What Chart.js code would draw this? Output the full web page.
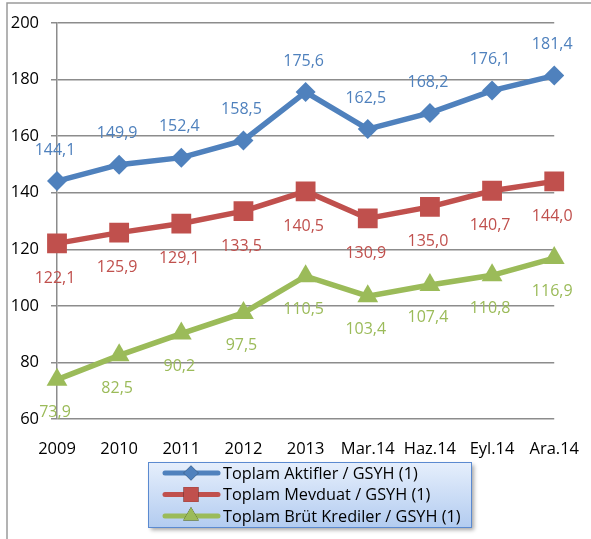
<!DOCTYPE html>
<html>
<head>
<meta charset="utf-8">
<script src="https://cdn.jsdelivr.net/npm/chart.js@4.4.1/dist/chart.umd.min.js"></script>
<style>
  html, body { margin: 0; padding: 0; background: #fff; }
  #wrap { width: 591px; height: 539px; }
</style>
</head>
<body>
<div id="wrap"><canvas id="chart" width="591" height="539"></canvas></div>
<script>
// Bankacılık sektörü oranları (% GSYH)
const periods = ['2009', '2010', '2011', '2012', '2013', 'Mar.14', 'Haz.14', 'Eyl.14', 'Ara.14'];
const aktifler = [144.1, 149.9, 152.4, 158.5, 175.6, 162.5, 168.2, 176.1, 181.4];
const mevduat = [122.1, 125.9, 129.1, 133.5, 140.5, 130.9, 135.0, 140.7, 144.0];
const krediler = [73.9, 82.5, 90.2, 97.5, 110.5, 103.4, 107.4, 110.8, 116.9];
const seriesNames = ['Toplam Aktifler / GSYH (1)', 'Toplam Mevduat / GSYH (1)', 'Toplam Brüt Krediler / GSYH (1)'];
const yMin = 60, yMax = 200, yStep = 20;

const FONT = '"Open Sans", "Noto Sans", sans-serif';
const gridColor = '#8c8c8c';

// frame round the whole picture (left and top edges only are visible)
const framePlugin = {
    id: 'frame',
    beforeDraw(chart) {
        const c = chart.ctx;
        c.save();
        c.strokeStyle = '#9a9a9a';
        c.lineWidth = 1.5;
        c.beginPath();
        c.moveTo(7, chart.height);
        c.lineTo(7, 3);
        c.lineTo(chart.width, 3);
        c.stroke();
        c.restore();
    }
};

// value labels, Turkish decimal comma
const valueLabels = {
    id: 'valueLabels',
    afterDatasetsDraw(chart) {
        const c = chart.ctx;
        c.save();
        c.font = '16px ' + FONT;
        c.textAlign = 'center';
        c.textBaseline = 'middle';
        chart.data.datasets.forEach((ds, i) => {
            const meta = chart.getDatasetMeta(i);
            c.fillStyle = ds.borderColor;
            meta.data.forEach((pt, j) => {
                const txt = ds.data[j].toFixed(1).replace('.', ',');
                c.fillText(txt, pt.x - 2, pt.y + ds.labelDy);
            });
        });
        c.restore();
    }
};

// boxed legend with a blue gradient, as in the Excel original
const boxLegend = {
    id: 'boxLegend',
    afterDraw(chart) {
        const c = chart.ctx;
        const bx = 148, by = 462, bw = 323, bh = 65;
        c.save();
        c.shadowColor = 'rgba(0,0,0,0.35)';
        c.shadowOffsetX = 3;
        c.shadowOffsetY = 3;
        c.shadowBlur = 4;
        const g = c.createLinearGradient(0, by, 0, by + bh);
        g.addColorStop(0, '#e6effc');
        g.addColorStop(1, '#b3ccf0');
        c.fillStyle = g;
        c.fillRect(bx, by, bw, bh);
        c.restore();

        c.save();
        c.strokeStyle = '#5b8ad0';
        c.lineWidth = 1;
        c.strokeRect(bx + 0.5, by + 0.5, bw, bh);
        c.font = '16.3px ' + FONT;
        c.textBaseline = 'middle';
        c.textAlign = 'left';
        chart.data.datasets.forEach((ds, i) => {
            const y = by + 11 + i * 21.5;
            c.strokeStyle = ds.borderColor;
            c.lineWidth = 5;
            c.lineCap = 'round';
            c.beginPath();
            c.moveTo(165, y);
            c.lineTo(218, y);
            c.stroke();
            Chart.helpers.drawPoint(c, {
                pointStyle: ds.pointStyle,
                radius: ds.pointRadius * 0.75,
                rotation: 0,
                borderWidth: 0
            }, 191, y);
            c.fillStyle = ds.borderColor;
            c.fill();
            c.fillStyle = '#000';
            c.fillText(seriesNames[i], 223, y + 1);
        });
        c.restore();
    }
};

function series(label, data, color, style, radius, dy) {
    return {
        label: label,
        data: data,
        borderColor: color,
        backgroundColor: color,
        borderWidth: 5.5,
        pointStyle: style,
        pointRadius: radius,
        pointHoverRadius: radius,
        pointBorderWidth: 0,
        tension: 0,
        fill: false,
        labelDy: dy
    };
}

new Chart(document.getElementById('chart'), {
    type: 'line',
    data: {
        labels: periods,
        datasets: [
            series(seriesNames[0], aktifler, '#4f81bd', 'rectRot', 10, -31),
            series(seriesNames[1], mevduat, '#c0504d', 'rect', 14, 35),
            series(seriesNames[2], krediler, '#9bbb59', 'triangle', 12, 33)
        ]
    },
    options: {
        responsive: false,
        animation: false,
        layout: { padding: { top: 23, right: 34, left: 0, bottom: 0 } },
        plugins: {
            legend: { display: false },
            tooltip: { enabled: false }
        },
        scales: {
            x: {
                offset: false,
                grid: { display: false },
                border: { display: false },
                ticks: { color: '#000', font: { family: FONT, size: 16.5 }, padding: 12, maxRotation: 0 },
                afterFit(scale) { scale.height = 120; }
            },
            y: {
                min: yMin,
                max: yMax,
                grid: { color: gridColor, lineWidth: 1.5, tickLength: 6 },
                border: { display: true, color: gridColor, width: 1.5 },
                ticks: { stepSize: yStep, color: '#000', font: { family: FONT, size: 16.5 }, padding: 12 },
                afterFit(scale) { scale.width = 57; }
            }
        }
    },
    plugins: [framePlugin, valueLabels, boxLegend]
});
</script>
</body>
</html>
